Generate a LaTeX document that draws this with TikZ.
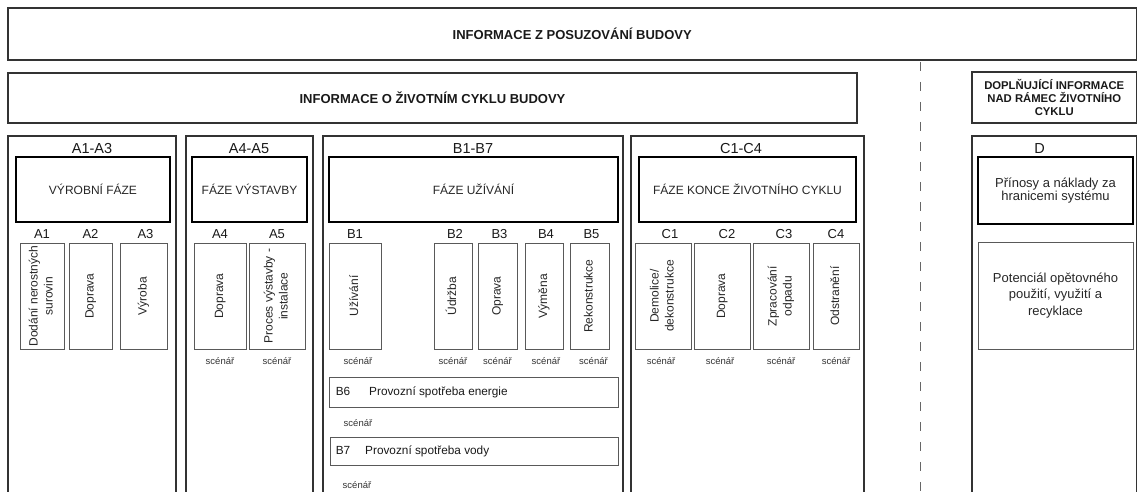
\documentclass[tikz,border=0pt]{standalone}
\usepackage{fontspec}
\setmainfont{Liberation Sans}
\usetikzlibrary{positioning}
\newcommand{\vtext}[1]{\rotatebox{90}{\begin{tabular}{@{}c@{}}#1\end{tabular}}}

\begin{document}
\begin{tikzpicture}[x=1pt,y=-1pt,
    span/.style args={#1/#2/#3/#4}{at={({(#1+#3)/2},{(#2+#4)/2})}, minimum width={(#3-#1)*1pt}, minimum height={(#4-#2)*1pt}},
    frame/.style={draw=black!80, line width=1.2pt},
    bigbox/.style={draw=black!80, line width=1.2pt, inner sep=0pt, font=\bfseries\fontsize{13}{15}\selectfont, text=black!90},
    phasebox/.style={draw=black, line width=1.6pt, inner sep=0pt, font=\fontsize{12}{13}\selectfont, text=black!85},
    itembox/.style={draw=black!65, line width=0.8pt, inner sep=0pt, font=\fontsize{12}{15}\selectfont, text=black!85},
    grouplbl/.style={inner sep=0pt, font=\fontsize{14.5}{16}\selectfont, text=black!90},
    itemlbl/.style={inner sep=0pt, font=\fontsize{13}{14}\selectfont, text=black!90},
    scen/.style={inner sep=0pt, font=\fontsize{9.5}{10}\selectfont, text=black!80},
    sepline/.style={draw=black!60, line width=0.9pt, dash pattern=on 9pt off 11pt}]
    \useasboundingbox (0,0) rectangle (1138,492);

    % --- TOP ROWS ---
    \node[bigbox, span=8/8/1136.5/60] (info) {INFORMACE Z POSUZOVÁNÍ BUDOVY};
    \node[bigbox, span=8/73/857/123] (cycle) {INFORMACE O ŽIVOTNÍM CYKLU BUDOVY};
    \node[bigbox, span=972/72/1136.5/123, align=center, font=\bfseries\fontsize{11.3}{13}\selectfont] (extra) {DOPLŇUJÍCÍ INFORMACE\\NAD RÁMEC ŽIVOTNÍHO\\CYKLU};
    \coordinate (sepTop) at (920,62);
    \coordinate (sepBot) at (920,492);
    \draw[sepline] (sepTop) -- (sepBot);

    % --- COLUMN FRAMES (open at the bottom) ---
    \draw[frame] (8,492) |- (176,136) -- (176,492);
    \draw[frame] (186,492) |- (313,136) -- (313,492);
    \draw[frame] (323,492) |- (623,136) -- (623,492);
    \draw[frame] (631,492) |- (864,136) -- (864,492);
    \draw[frame] (972,492) |- (1136.5,136) -- (1136.5,492);
    \node[grouplbl] (gA) at (92,149) {A1-A3};
    \node[grouplbl] (gAA) at (249,149) {A4-A5};
    \node[grouplbl] (gB) at (473,149) {B1-B7};
    \node[grouplbl] (gC) at (741,149) {C1-C4};
    \node[grouplbl] (gD) at (1039.5,149) {D};

    % --- PHASES ---
    \node[phasebox, span=16/157/170/222] (prod) {VÝROBNÍ FÁZE};
    \node[phasebox, span=192/157/307/222] (constr) {FÁZE VÝSTAVBY};
    \node[phasebox, span=329/157/618/222] (use) {FÁZE UŽÍVÁNÍ};
    \node[phasebox, span=639/157/856/222] (eol) {FÁZE KONCE ŽIVOTNÍHO CYKLU};
    \node[phasebox, span=978/157/1133/224, align=center, font=\fontsize{13}{13.5}\selectfont] (benef) {Přínosy a náklady za\\hranicemi systému};
    \node[itembox, span=978/242/1133/349, align=center, font=\fontsize{13}{16.5}\selectfont] (reuse) {Potenciál opětovného\\použití, využití a\\recyklace};

    % --- MODULES A ---
    \node[itembox, span=20/243/64/349] (a1) {\vtext{Dodání nerostných\\surovin}};
    \node[itembox, span=69/243/112/349] (a2) {\vtext{Doprava}};
    \node[itembox, span=120/243/167/349] (a3) {\vtext{Výroba}};
    \node[itembox, span=194/243/246/349] (a4) {\vtext{Doprava}};
    \node[itembox, span=249/243/305/349] (a5) {\vtext{Proces výstavby -\\instalace}};
    \node[itemlbl, above=3.5pt of a1] (a1l) {A1};
    \node[itemlbl, above=3.5pt of a2] (a2l) {A2};
    \node[itemlbl, above=3.5pt of a3, xshift=2pt] (a3l) {A3};
    \node[itemlbl, above=3.5pt of a4] (a4l) {A4};
    \node[itemlbl, above=3.5pt of a5] (a5l) {A5};
    \node[scen, below=8pt of a4] (a4s) {scénář};
    \node[scen, below=8pt of a5] (a5s) {scénář};

    % --- MODULES B ---
    \node[itembox, span=329/243/381/349] (b1) {\vtext{Užívání}};
    \node[itembox, span=434/243/472/349] (b2) {\vtext{Údržba}};
    \node[itembox, span=478/243/517/349] (b3) {\vtext{Oprava}};
    \node[itembox, span=525/243/563/349] (b4) {\vtext{Výměna}};
    \node[itembox, span=570/243/609/349] (b5) {\vtext{Rekonstrukce}};
    \node[itemlbl, above=3.5pt of b1] (b1l) {B1};
    \node[itemlbl, above=3.5pt of b2, xshift=2pt] (b2l) {B2};
    \node[itemlbl, above=3.5pt of b3, xshift=2pt] (b3l) {B3};
    \node[itemlbl, above=3.5pt of b4, xshift=2pt] (b4l) {B4};
    \node[itemlbl, above=3.5pt of b5, xshift=2pt] (b5l) {B5};
    \node[scen, below=8pt of b1, xshift=3pt] (b1s) {scénář};
    \node[scen, below=8pt of b2] (b2s) {scénář};
    \node[scen, below=8pt of b3] (b3s) {scénář};
    \node[scen, below=8pt of b4, xshift=2pt] (b4s) {scénář};
    \node[scen, below=8pt of b5, xshift=4pt] (b5s) {scénář};
    \node[itembox, span=329/377/618/407] (b6) {};
    \node[itembox, span=330/437/618/465] (b7) {};
    \node[itemlbl, anchor=west, font=\fontsize{11.8}{13}\selectfont] (b6l) at ([xshift=7pt]b6.west) {B6\hspace{19pt}Provozní spotřeba energie};
    \node[itemlbl, anchor=west, font=\fontsize{11.8}{13}\selectfont] (b7l) at ([xshift=6pt]b7.west) {B7\hspace{15pt}Provozní spotřeba vody};
    \node[scen] (b6s) at (358,423) {scénář};
    \node[scen] (b7s) at (357,485) {scénář};

    % --- MODULES C ---
    \node[itembox, span=635/243/691/349] (c1) {\vtext{Demolice/\\dekonstrukce}};
    \node[itembox, span=694/243/750/349] (c2) {\vtext{Doprava}};
    \node[itembox, span=753/243/809/349] (c3) {\vtext{Zpracování\\odpadu}};
    \node[itembox, span=813/243/859/349] (c4) {\vtext{Odstranění}};
    \node[itemlbl, above=3.5pt of c1, xshift=7pt] (c1l) {C1};
    \node[itemlbl, above=3.5pt of c2, xshift=5pt] (c2l) {C2};
    \node[itemlbl, above=3.5pt of c3, xshift=3pt] (c3l) {C3};
    \node[itemlbl, above=3.5pt of c4] (c4l) {C4};
    \node[scen, below=8pt of c1, xshift=-2pt] (c1s) {scénář};
    \node[scen, below=8pt of c2, xshift=-2pt] (c2s) {scénář};
    \node[scen, below=8pt of c3] (c3s) {scénář};
    \node[scen, below=8pt of c4] (c4s) {scénář};
\end{tikzpicture}
\end{document}
